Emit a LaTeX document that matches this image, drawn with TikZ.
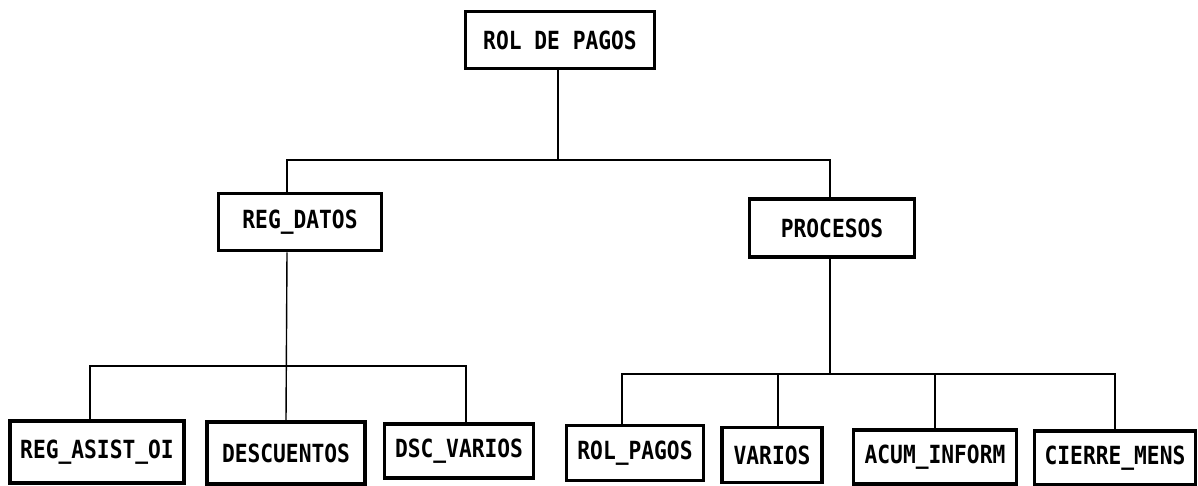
\documentclass[tikz,border=0pt]{standalone}
\usepackage{fontspec}
\usepackage{tikz}
\usetikzlibrary{positioning}
\newfontfamily\boxfont[FakeStretch=0.85]{DejaVu Sans Mono}
\tikzset{
    %Define style for module boxes
    modulo/.style={
           rectangle,
           draw=black, line width=3.8pt,
           inner sep=0pt,
           minimum height=57pt,
           font=\boxfont\bfseries\fontsize{25}{28}\selectfont,
           text centered},
    % Define connector style
    enlace/.style={
           draw=black,
           line width=1.4pt}
}
\begin{document}
\begin{tikzpicture}[x=1pt,y=-1pt]
\useasboundingbox (0,0) rectangle (1198,486);
% bus levels
\coordinate (nivel1) at (0,160);
\coordinate (nivel2a) at (0,366);
\coordinate (nivel2b) at (0,374);
% modules
\node[modulo, minimum width=189pt](rol) at (560,40){ROL DE PAGOS};
\node[modulo, minimum width=163pt](regdatos) at (300,222){REG\_DATOS};
\node[modulo, minimum width=165pt, minimum height=58pt](procesos) at (832,228){PROCESOS};
\node[modulo, minimum width=174pt, minimum height=62pt](asist) at (97,452){REG\_ASIST\_OI};
\node[modulo, minimum width=158pt, minimum height=62pt](descuentos) at (286,453){DESCUENTOS};
\node[modulo, minimum width=149pt, minimum height=54pt](dscvarios) at (459,451){DSC\_VARIOS};
\node[modulo, minimum width=137pt, minimum height=55pt](rolpagos) at (635,453){ROL\_PAGOS};
\node[modulo, minimum width=100pt, minimum height=55pt](varios) at (772,455){VARIOS};
\node[modulo, minimum width=163pt, minimum height=54pt](acum) at (935,457){ACUM\_INFORM};
\node[modulo, minimum width=161pt, minimum height=54pt](cierre) at (1115,458){CIERRE\_MENS};
% connectors
\draw[enlace] ([xshift=-2pt]rol.south) -- ([xshift=-2pt]rol.south |- nivel1);
\draw[enlace] ([xshift=-13pt]regdatos.north) |- ([xshift=-2pt]procesos.north |- nivel1)
    -- ([xshift=-2pt]procesos.north);
\draw[enlace] ([xshift=-13pt]regdatos.south) -- (descuentos.north);
\draw[enlace] ([xshift=-7pt]asist.north) |- ([xshift=7pt]dscvarios.north |- nivel2a)
    -- ([xshift=7pt]dscvarios.north);
\draw[enlace] ([xshift=-2pt]procesos.south) -- ([xshift=-2pt]procesos.south |- nivel2b);
\draw[enlace] ([xshift=-13pt]rolpagos.north) |- (cierre.north |- nivel2b) -- (cierre.north);
\draw[enlace] ([xshift=6pt]varios.north) -- ([xshift=6pt]varios.north |- nivel2b);
\draw[enlace] (acum.north) -- (acum.north |- nivel2b);
\end{tikzpicture}
\end{document}
